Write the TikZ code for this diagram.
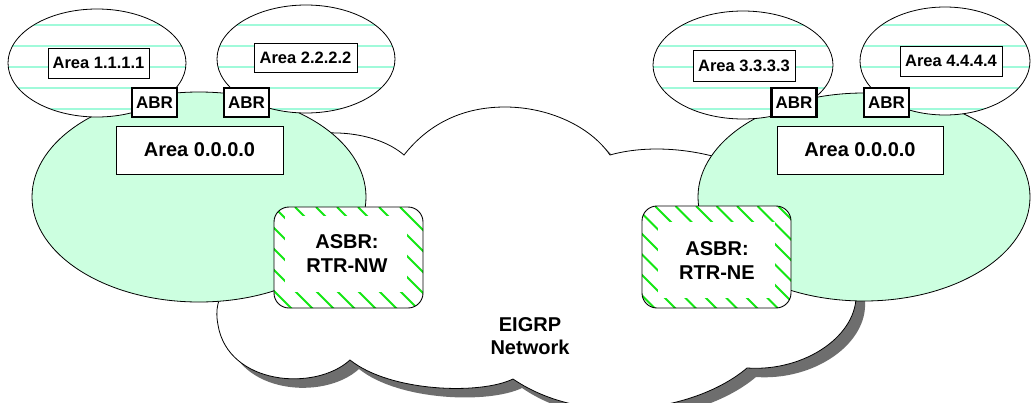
\documentclass[tikz,border=0pt]{standalone}
\usepackage{fontspec}
\setmainfont{Liberation Sans}
\definecolor{mint}{RGB}{204,255,224}
\definecolor{stripecol}{RGB}{160,250,218}
\definecolor{hatchcol}{RGB}{20,230,20}
\definecolor{shadowcol}{RGB}{110,110,110}
\def\cloudpath{(290,140) .. controls (320,128) and (375,130) .. (404,155)
 .. controls (430,122) and (465,107) .. (505,107)
 .. controls (548,107) and (590,126) .. (610,155)
 .. controls (645,145) and (695,147) .. (740,165)
 -- (820,220) -- (856,292)
 .. controls (859,335) and (805,372) .. (747,368)
 .. controls (695,412) and (585,428) .. (513,379)
 .. controls (480,395) and (390,392) .. (350,360)
 .. controls (315,392) and (228,385) .. (218,325)
 .. controls (215,310) and (218,298) .. (225,290)
 -- cycle}
\begin{document}
\begin{tikzpicture}[x=1pt,y=-1pt,
  outline/.style={draw=black, line width=0.8pt},
  lbl/.style={draw=black, line width=0.8pt, fill=white, inner sep=0pt,
    font=\bfseries\fontsize{16.5}{18}\selectfont},
  bigarea/.style={draw=black, line width=0.8pt, fill=white, inner sep=0pt,
    minimum width=167pt, minimum height=48pt, font=\bfseries\fontsize{20}{24}\selectfont},
  abr/.style={draw=black, line width=2.4pt, fill=white, inner sep=0pt,
    minimum width=45pt, minimum height=29pt, font=\bfseries\fontsize{17}{19}\selectfont},
  asbr/.style={draw=black, line width=0.9pt, rounded corners=15pt, inner sep=0pt,
    minimum width=149pt, minimum height=101pt},
  asbrtext/.style={inner sep=0pt, align=center, font=\bfseries\fontsize{20}{24}\selectfont},
  stripe/.style={stripecol, line width=2.8pt},
  hatch/.style={hatchcol, line width=2pt}]
\useasboundingbox (0,0) rectangle (1031,402);

% cloud with shadow
\begin{scope}
\clip (0,0) rectangle (1031,402);
\fill[shadowcol, shift={(9,9)}] \cloudpath;
\filldraw[fill=white, outline] \cloudpath;
\end{scope}

% backbone areas
\filldraw[fill=mint, outline] (199,197) ellipse [x radius=167, y radius=105];
\filldraw[fill=mint, outline] (864,197) ellipse [x radius=166, y radius=104];

% striped small areas
\foreach \cx/\cy/\rx in {97/63/89, 306/59/89, 743/65/90, 945/61/85}{
  \begin{scope}
    \clip (\cx,\cy) ellipse [x radius=\rx, y radius=54];
    \fill[white] (0,0) rectangle (1031,130);
    \foreach \yy in {25,46,67,88,109} \draw[stripe] (0,\yy) -- (1031,\yy);
  \end{scope}
  \draw[outline] (\cx,\cy) ellipse [x radius=\rx, y radius=54];
}

% area labels
\node[lbl, minimum width=101pt, minimum height=30pt] (a1) at (98.5,63) {Area 1.1.1.1};
\node[lbl, minimum width=103pt, minimum height=29pt] (a2) at (305.5,57.5) {Area 2.2.2.2};
\node[lbl, minimum width=102pt, minimum height=31pt] (a3) at (744,65.5) {Area 3.3.3.3};
\node[lbl, minimum width=102pt, minimum height=30pt] (a4) at (951,61) {Area 4.4.4.4};
\node[bigarea] (a0l) at (199.5,150) {Area 0.0.0.0};
\node[bigarea, minimum width=166pt] (a0r) at (860,150) {Area 0.0.0.0};

% ABRs
\node[abr] (abr1) at (154.5,102.5) {ABR};
\node[abr] (abr2) at (246.5,102.5) {ABR};
\node[abr] (abr3) at (794,102.5) {ABR};
\node[abr] (abr4) at (886.5,102.5) {ABR};

% ASBR NW
\begin{scope}
  \clip[rounded corners=15pt] (274,207) rectangle (423,308);
  \fill[white] (274,207) rectangle (423,308);
  \foreach \k in {-7,...,6} \draw[hatch] (295+21*\k,207) -- ++(110,110);
  \fill[white] (285,216) rectangle (407,292);
\end{scope}
\node[asbr] (nw) at (348.5,257.5) {};
\node[asbrtext] (nwt) at (347,254) {ASBR:\\RTR-NW};

% ASBR NE
\begin{scope}
  \clip[rounded corners=15pt] (642,206) rectangle (791,308);
  \fill[white] (642,206) rectangle (791,308);
  \foreach \k in {-7,...,6} \draw[hatch] (655+20.5*\k,206) -- ++(110,110);
  \fill[white] (658,222) rectangle (775,298);
\end{scope}
\node[asbr, minimum height=102pt] (ne) at (716.5,257) {};
\node[asbrtext] (net) at (717,261) {ASBR:\\RTR-NE};

% cloud label
\node[asbrtext, font=\bfseries\fontsize{20}{23}\selectfont] (eigrp) at (530,336) {EIGRP\\Network};
\end{tikzpicture}
\end{document}
